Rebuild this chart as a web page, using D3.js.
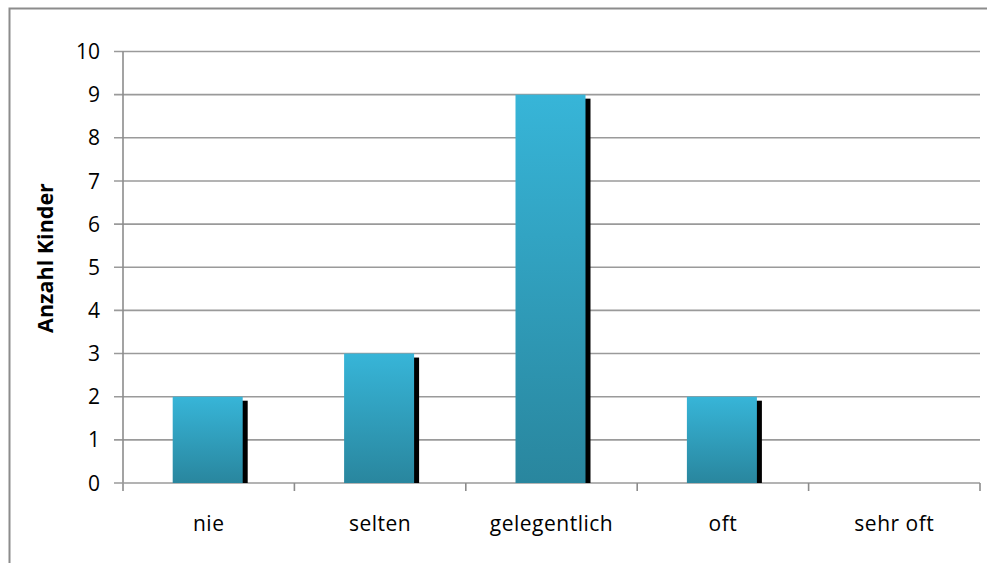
<!DOCTYPE html>
<html><head><meta charset="utf-8">
<script src="https://cdn.jsdelivr.net/npm/d3@7"></script>
<style>body{margin:0;background:#fff}svg{display:block}</style>
</head><body>
<script>
const categories = ["nie", "selten", "gelegentlich", "oft", "sehr oft"];
const values = [2, 3, 9, 2, 0];
const yTicks = [0,1,2,3,4,5,6,7,8,9,10];
const yTitle = "Anzahl Kinder";

const W = 987, H = 563;
const svg = d3.select("body").append("svg").attr("width", W).attr("height", H);
const font = "Open Sans, Noto Sans, sans-serif";

// outer border (extends past the crop on right/bottom)
svg.append("rect").attr("x", 9.5).attr("y", 8.5).attr("width", 1000).attr("height", 600)
  .attr("fill", "none").attr("stroke", "#8c8c8c").attr("stroke-width", 2);

const defs = svg.append("defs");
const g = defs.append("linearGradient").attr("id", "bg").attr("x1", 0).attr("y1", 0).attr("x2", 0).attr("y2", 1);
g.append("stop").attr("offset", "0%").attr("stop-color", "#37b5d8");
g.append("stop").attr("offset", "100%").attr("stop-color", "#29869e");

const x0 = 123, x1 = 980, yTop = 51.5, yBot = 483;
const x = d3.scaleBand().domain(categories).range([x0, x1]).paddingInner(0).paddingOuter(0);
const y = d3.scaleLinear().domain([0, 10]).range([yBot, yTop]);

// gridlines
svg.append("g").selectAll("line").data(yTicks.filter(d => d > 0)).join("line")
  .attr("x1", x0 - 9).attr("x2", x1).attr("y1", d => y(d)).attr("y2", d => y(d))
  .attr("stroke", "#9a9a9a").attr("stroke-width", 1.6);

// y axis
svg.append("line").attr("x1", x0).attr("x2", x0).attr("y1", yTop).attr("y2", yBot + 8)
  .attr("stroke", "#8c8c8c").attr("stroke-width", 1.6);
svg.append("line").attr("x1", x0 - 9).attr("x2", x1).attr("y1", yBot).attr("y2", yBot)
  .attr("stroke", "#9a9a9a").attr("stroke-width", 1.6);
// x ticks at boundaries
const bounds = categories.map(c => x(c)).concat([x1]);
svg.append("g").selectAll("line").data(bounds.slice(1)).join("line")
  .attr("x1", d => d).attr("x2", d => d).attr("y1", yBot).attr("y2", yBot + 8)
  .attr("stroke", "#8c8c8c").attr("stroke-width", 1.6);

// y labels
svg.append("g").selectAll("text").data(yTicks).join("text")
  .attr("x", 100).attr("y", d => y(d)).attr("dy", "0.36em").attr("text-anchor", "end")
  .attr("font-family", font).attr("font-size", 21).attr("fill", "#000").text(d => d);

// x labels
svg.append("g").selectAll("text").data(categories).join("text")
  .attr("x", d => x(d) + x.bandwidth() / 2).attr("y", 531).attr("text-anchor", "middle")
  .attr("font-family", font).attr("font-size", 21).attr("fill", "#000")
  .attr("letter-spacing", 0.5).text(d => d);

// title
svg.append("text").attr("transform", "translate(53,258) rotate(-90)").attr("text-anchor", "middle")
  .attr("font-family", font).attr("font-size", 21.5).attr("font-weight", "bold").text(yTitle);

// bars
const bw = 70;
const bars = svg.append("g").selectAll("g").data(categories.map((c, i) => ({c, v: values[i]})).filter(d => d.v > 0)).join("g");
bars.append("rect")
  .attr("x", d => x(d.c) + x.bandwidth() / 2 - 36 + bw - 1).attr("y", d => y(d.v) + 4)
  .attr("width", 6).attr("height", d => yBot - y(d.v) - 4).attr("fill", "#000");
bars.append("rect")
  .attr("x", d => x(d.c) + x.bandwidth() / 2 - 36).attr("y", d => y(d.v))
  .attr("width", bw).attr("height", d => yBot - y(d.v)).attr("fill", "url(#bg)");
</script>
</body></html>
